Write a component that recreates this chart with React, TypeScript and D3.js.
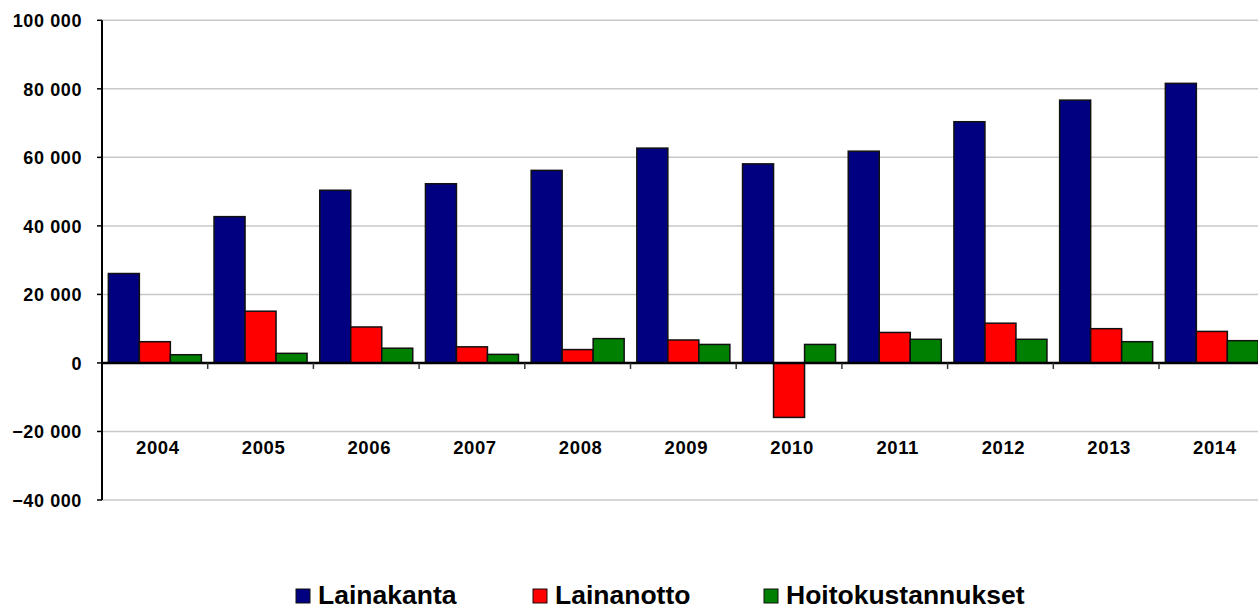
import * as React from 'react';
import * as d3 from 'd3';

const years = ['2004', '2005', '2006', '2007', '2008', '2009', '2010', '2011', '2012', '2013', '2014'];
const lainakanta = [26100, 42700, 50400, 52300, 56200, 62700, 58100, 61800, 70400, 76700, 81600];
const lainanotto = [6200, 15100, 10500, 4700, 3900, 6700, -15900, 8900, 11600, 10000, 9200];
const hoitokustannukset = [2400, 2800, 4300, 2500, 7100, 5400, 5400, 6900, 6900, 6200, 6500];
const seriesNames = ['Lainakanta', 'Lainanotto', 'Hoitokustannukset'];
const seriesColors = ['#000080', '#ff0000', '#008000'];
const yTicks = [100000, 80000, 60000, 40000, 20000, 0, -20000, -40000];

const W = 1258;
const H = 610;

const App = () => {
  const left = 102;
  const right = 1264.7;
  const y = d3.scaleLinear().domain([-40000, 100000]).range([500, 20.3]);
  const x0 = d3.scaleBand().domain(years).range([left, right]).paddingInner(0.12).paddingOuter(0.06);
  const x1 = d3.scaleBand().domain(seriesNames).range([0, x0.bandwidth()]).padding(0);
  const data = [lainakanta, lainanotto, hoitokustannukset];
  const fmt = (v: number) => d3.format(',')(v).replace(/,/g, ' ');
  const font = 'Arial, "Liberation Sans", sans-serif';
  const legendX = [296, 533, 764];

  return (
    <svg width={W} height={H} style={{position: 'absolute', left: 0, top: 0, background: '#fff'}}>
      {/* gridlines */}
      {yTicks.filter(t => t !== 0).map(t => (
        <line key={'g' + t} x1={left} x2={W} y1={y(t)} y2={y(t)} stroke="#c8c8c8" strokeWidth={1.5} />
      ))}
      {/* bars */}
      {years.map((yr, i) => (
        <g key={yr} transform={`translate(${x0(yr)},0)`}>
          {seriesNames.map((s, j) => {
            const v = data[j][i];
            return (
              <rect key={s} x={x1(s)} y={y(Math.max(0, v))} width={x1.bandwidth()}
                height={Math.abs(y(v) - y(0))} fill={seriesColors[j]} stroke="#111" strokeWidth={1.5} />
            );
          })}
        </g>
      ))}
      {/* zero line and category ticks */}
      <line x1={left} x2={W} y1={y(0)} y2={y(0)} stroke="#000" strokeWidth={2.5} />
      {years.map((yr, i) => (
        <line key={'t' + yr} x1={left + (i + 1) * x0.step()} x2={left + (i + 1) * x0.step()}
          y1={y(0)} y2={y(0) + 6} stroke="#333" strokeWidth={1.5} />
      ))}
      {/* y axis */}
      <line x1={left} x2={left} y1={y(100000)} y2={y(-40000)} stroke="#000" strokeWidth={2} />
      {yTicks.map(t => (
        <g key={'yt' + t}>
          <line x1={left - 5} x2={left} y1={y(t)} y2={y(t)} stroke="#000" strokeWidth={1.5} />
          <text x={82} y={y(t) + 7} textAnchor="end" fontFamily={font} fontWeight="bold"
            fontSize={18} letterSpacing={0.6}>{fmt(t)}</text>
        </g>
      ))}
      {/* category labels */}
      {years.map(yr => (
        <text key={'l' + yr} x={x0(yr)! + x0.bandwidth() / 2 + 3} y={y(-20000) + 23} textAnchor="middle"
          fontFamily={font} fontWeight="bold" fontSize={18.5} letterSpacing={0.6}>{yr}</text>
      ))}
      {/* legend */}
      {seriesNames.map((s, j) => (
        <g key={'lg' + s}>
          <rect x={legendX[j]} y={589} width={14} height={14} fill={seriesColors[j]} stroke="#111" strokeWidth={1} />
          <text x={legendX[j] + 22} y={604} fontFamily={font} fontWeight="bold" fontSize={26.5}>{s}</text>
        </g>
      ))}
    </svg>
  );
};

export default App;
